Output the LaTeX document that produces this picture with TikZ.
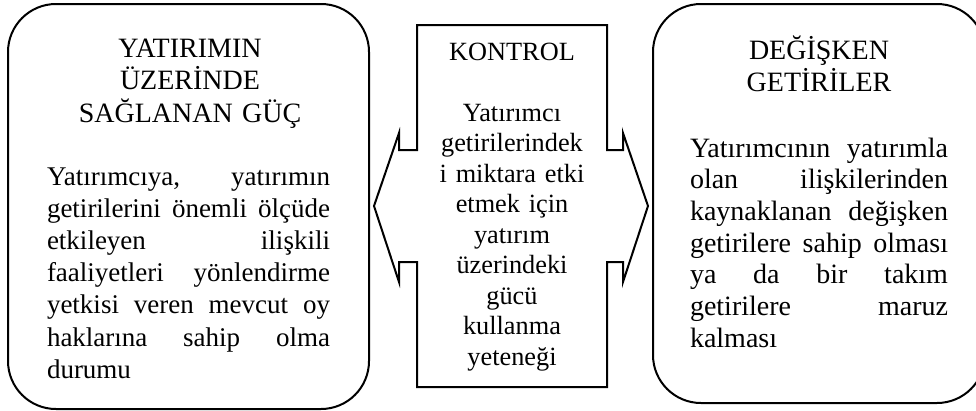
\documentclass[tikz,border=0pt]{standalone}
\usepackage{fontspec}
\setmainfont{Liberation Serif}
\newcommand\jl[2]{\leavevmode\hbox to #1{#2}}
\begin{document}
\begin{tikzpicture}[x=1pt,y=-1pt,
  box/.style={draw,line width=2pt,rounded corners=48pt,inner sep=0pt},
  titlefont/.style={font=\fontsize{28}{32.5}\selectfont},
  leftfont/.style={font=\fontsize{27}{32.2}\selectfont},
  rightfont/.style={font=\fontsize{28}{31.7}\selectfont},
  midfont/.style={font=\fontsize{26.3}{30.5}\selectfont},
  txt/.style={inner sep=0pt,outer sep=0pt}]
\useasboundingbox (0,0) rectangle (976,410);
% boxes
\node[box,minimum width=361pt,minimum height=405pt] (leftbox) at (188.5,206.5) {};
\node[box,minimum width=332pt,minimum height=399pt] (rightbox) at (819,203.5) {};
% centre callout
\coordinate (c1) at (417,25);
\coordinate (c2) at (607,25);
\draw[line width=2pt,line join=miter] (c1) -- (c2) -- (607,150) -- (623,150) -- (623,133) -- (648,206) -- (623,282) -- (623,262) -- (607,262) -- (607,387) -- (417,387) -- (417,262) -- (399,262) -- (399,282) -- (374,206) -- (399,133) -- (399,150) -- (417,150) -- cycle;
% left texts
\node[txt,titlefont,text width=320pt,align=center,anchor=base] (lt) at (190,57) {YATIRIMIN\\ ÜZERİNDE\\ SAĞLANAN GÜÇ};
\node[txt,leftfont,text width=283pt,align=left,anchor=base west] (lb) at (47,185) {\jl{283pt}{Yatırımcıya,\hfill yatırımın}\\ \jl{283pt}{getirilerini\hfill önemli\hfill ölçüde}\\ \jl{283pt}{etkileyen\hfill ilişkili}\\ \jl{283pt}{faaliyetleri\hfill yönlendirme}\\ \jl{283pt}{yetkisi\hfill veren\hfill mevcut\hfill oy}\\ \jl{283pt}{haklarına\hfill sahip\hfill olma}\\ durumu};
% centre texts
\node[txt,midfont,text width=190pt,align=center,anchor=base] (ct) at (512,60) {KONTROL};
\node[txt,midfont,text width=190pt,align=center,anchor=base] (cb) at (512,121) {Yatırımcı\\ getirilerindek\\ i miktara etki\\ etmek için\\ yatırım\\ üzerindeki\\ gücü\\ kullanma\\ yeteneği};
% right texts
\node[txt,titlefont,text width=300pt,align=center,anchor=base] (rt) at (819,59) {DEĞİŞKEN\\ GETİRİLER};
\node[txt,rightfont,text width=258pt,align=left,anchor=base west] (rb) at (690,157) {\jl{258pt}{Yatırımcının\hfill yatırımla}\\ \jl{258pt}{olan\hfill ilişkilerinden}\\ \jl{258pt}{kaynaklanan\hfill değişken}\\ \jl{258pt}{getirilere\hfill sahip\hfill olması}\\ \jl{258pt}{ya\hfill da\hfill bir\hfill takım}\\ \jl{258pt}{getirilere\hfill maruz}\\ kalması};
\end{tikzpicture}
\end{document}
